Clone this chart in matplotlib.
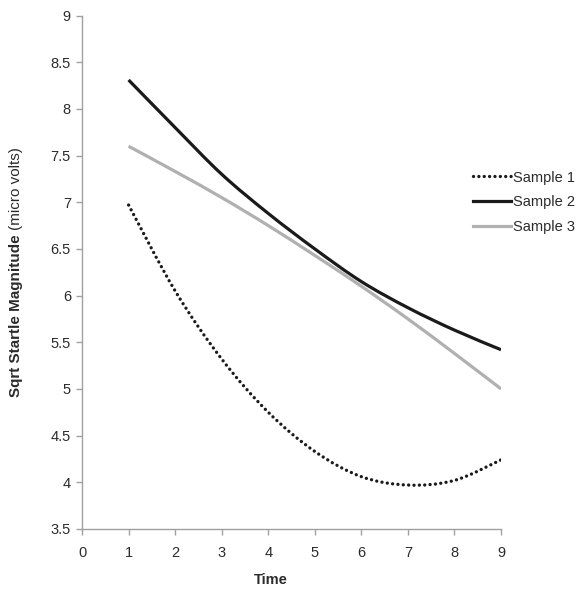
import matplotlib
matplotlib.use("Agg")
import matplotlib.pyplot as plt
import numpy as np
from matplotlib.path import Path
from matplotlib.patches import PathPatch
from matplotlib.lines import Line2D

plt.rcParams["font.family"] = ["Liberation Sans", "DejaVu Sans"]

time = [1, 2, 3, 4, 5, 6, 7, 8, 9]
sample1 = [6.97, 6.05, 5.32, 4.75, 4.33, 4.06, 3.97, 4.02, 4.24]
sample2 = [8.31, 7.80, 7.30, 6.88, 6.50, 6.15, 5.87, 5.63, 5.42]
sample3 = [7.60, 7.33, 7.05, 6.75, 6.43, 6.10, 5.75, 5.38, 5.00]
labels = ["Sample 1", "Sample 2", "Sample 3"]

TEXT = "#2b2b2b"
AXIS = "#a0a0a0"


def smooth_path(x, y):
    # excel-style smoothed line: cubic bezier through the points
    pts = np.column_stack([x, y]).astype(float)
    n = len(pts)
    verts = [pts[0]]
    codes = [Path.MOVETO]
    for i in range(n - 1):
        p0 = pts[i - 1] if i > 0 else pts[i]
        p1 = pts[i]
        p2 = pts[i + 1]
        p3 = pts[i + 2] if i + 2 < n else pts[i + 1]
        c1 = p1 + (p2 - p0) / 6.0
        c2 = p2 - (p3 - p1) / 6.0
        verts += [c1, c2, p2]
        codes += [Path.CURVE4] * 3
    return Path(verts, codes)


fig = plt.figure(figsize=(5.86, 5.99), dpi=100)
ax = fig.add_axes([0.14, 0.117, 0.715, 0.857])

styles = [
    dict(color="#1a1a1a", lw=2.4, ls=(0, (0.01, 1.6)), capstyle="round"),
    dict(color="#1a1a1a", lw=2.3, ls="-", capstyle="butt"),
    dict(color="#b0b0b0", lw=2.3, ls="-", capstyle="butt"),
]
handles = []
for ys, st in zip([sample1, sample2, sample3], styles):
    patch = PathPatch(smooth_path(time, ys), facecolor="none", edgecolor=st["color"],
                      lw=st["lw"], linestyle=st["ls"], capstyle=st["capstyle"])
    ax.add_patch(patch)
    handles.append(Line2D([], [], color=st["color"], lw=st["lw"], linestyle=st["ls"],
                          dash_capstyle=st["capstyle"]))

ax.set_xlim(0, 9)
ax.set_ylim(3.5, 9)
ax.set_xticks(range(0, 10))
ax.set_yticks(np.arange(3.5, 9.01, 0.5))
ax.set_yticklabels(["3.5", "4", "4.5", "5", "5.5", "6", "6.5", "7", "7.5", "8", "8.5", "9"])
for s in ["top", "right"]:
    ax.spines[s].set_visible(False)
for s in ["left", "bottom"]:
    ax.spines[s].set_color(AXIS)
    ax.spines[s].set_linewidth(1.0)
ax.tick_params(colors=AXIS, labelcolor=TEXT, labelsize=10.5, length=4, width=1)
ax.tick_params(axis="x", pad=8)
ax.tick_params(axis="y", pad=4)

ax.text(4.05, -0.1, "Time", transform=ax.get_xaxis_transform(), ha="center",
        va="center", fontsize=10.5, fontweight="bold", color=TEXT)

# y label: bold part + normal part
fig.canvas.draw()
r = fig.canvas.get_renderer()
fs = 11
bold = fig.text(0.027, 0, "Sqrt Startle Magnitude ", rotation=90, fontsize=fs,
                fontweight="bold", color=TEXT, ha="center", va="bottom")
norm = fig.text(0.027, 0, "(micro volts)", rotation=90, fontsize=fs, color=TEXT,
                ha="center", va="bottom")
hb = bold.get_window_extent(r).height
hn = norm.get_window_extent(r).height
H = fig.bbox.height
center = (ax.get_position().y0 + ax.get_position().y1) / 2 * H
start = center - (hb + hn) / 2
bold.set_y(start / H)
norm.set_y((start + hb) / H)

fig.legend(handles, labels, loc="upper left", bbox_to_anchor=(0.797, 0.725),
           frameon=False, fontsize=10.5, handlelength=2.6, handletextpad=0.15,
           labelspacing=0.75, labelcolor=TEXT, borderaxespad=0)

fig.savefig("out.png", dpi=100)
